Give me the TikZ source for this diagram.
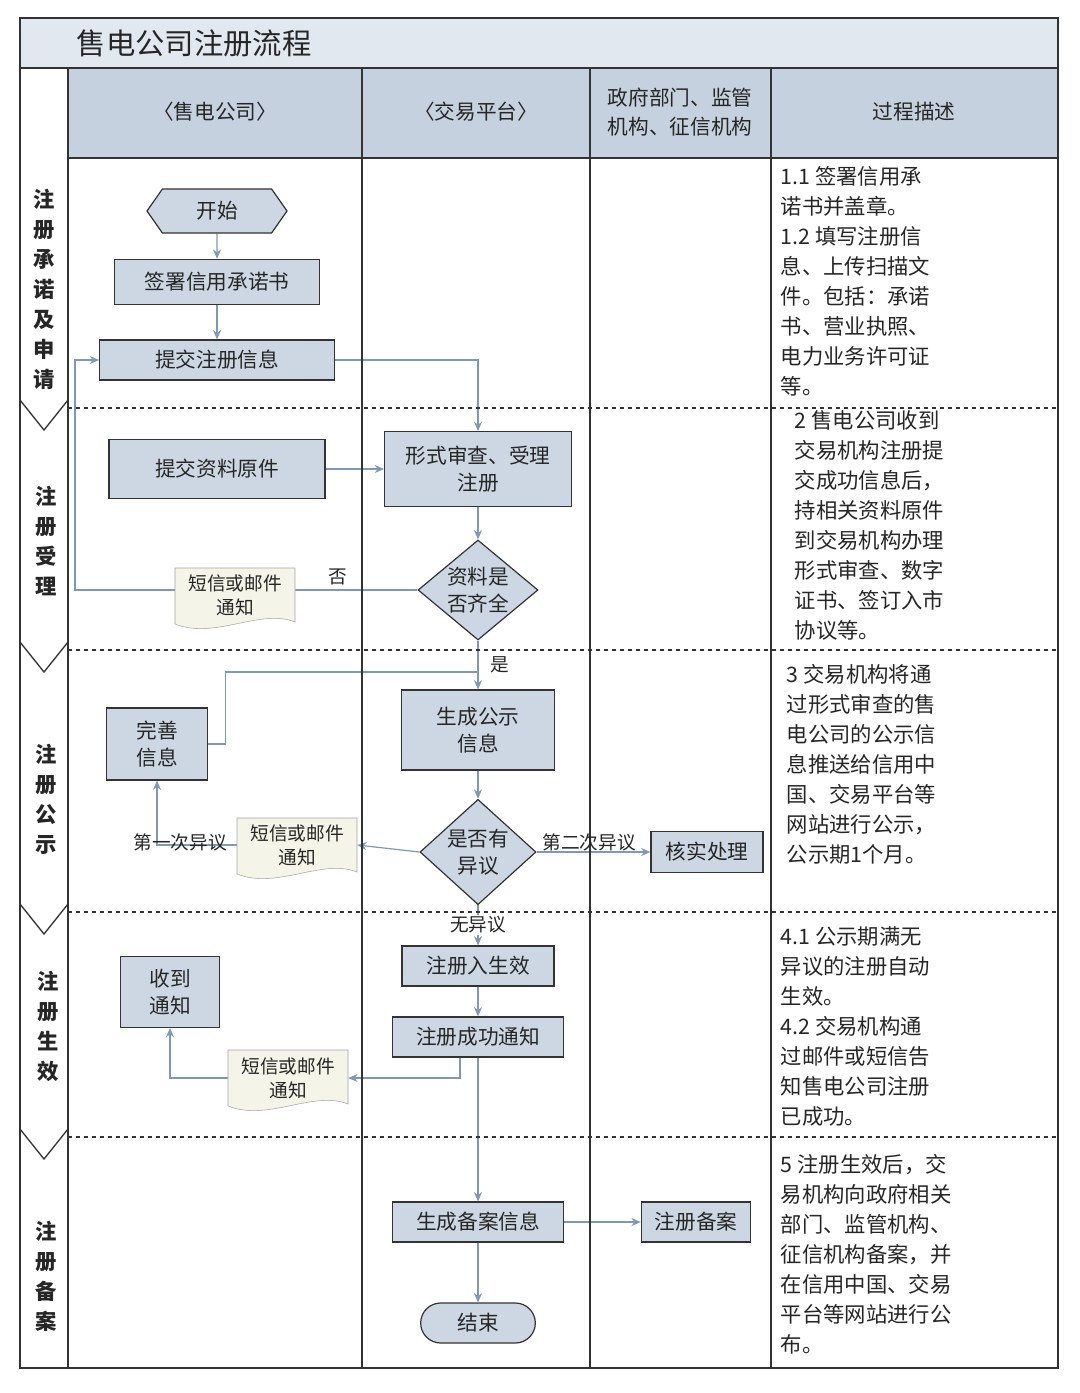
\documentclass[tikz,border=0pt]{standalone}
\usepackage{fontspec}
\setmainfont{Noto Sans CJK SC}
\usetikzlibrary{shapes.geometric,shapes.symbols,arrows.meta}
\pgfdeclarelayer{back}\pgfdeclarelayer{bg}\pgfsetlayers{back,bg,main}
\definecolor{boxf}{HTML}{CDD7E3}
\definecolor{headf}{HTML}{C6D1DF}
\definecolor{docf}{HTML}{F4F4E8}
\definecolor{ln}{HTML}{7E98B8}
\definecolor{bd}{HTML}{333333}
\newcommand{\docshape}[2]{%
 \fill[docf,draw=gray!70] (#1-60,#2-30) -- (#1+60,#2-30) -- (#1+60,#2+24)
  .. controls (#1+25,#2+10) and (#1-20,#2+42) .. (#1-60,#2+26) -- cycle;}
\begin{document}
\begin{tikzpicture}[x=0.75pt,y=-0.75pt,
 every node/.style={font=\fontsize{15.5pt}{20pt}\selectfont,align=center,text=black!85},
 box/.style={draw=bd,fill=boxf,line width=0.9pt,inner sep=0pt},
 arr/.style={draw=ln,line width=0.9pt,-{Stealth[length=7pt,width=6pt]}},
 ln/.style={draw=ln,line width=0.9pt},
 desc/.style={anchor=north west,align=left,font=\fontsize{16pt}{22.5pt}\selectfont},
 stage/.style={align=center,font=\fontsize{16pt}{22.5pt}\selectfont\bfseries},
 lbl/.style={font=\fontsize{14pt}{16pt}\selectfont}]
\useasboundingbox (0,0) rectangle (1080,1393);
\begin{pgfonlayer}{back}
\fill[white] (0,0) rectangle (1080,1393);
\fill[headf!50] (20,18) rectangle (1058,68);
\fill[headf] (68,68) rectangle (1058,158);
\end{pgfonlayer}
% frame
\draw[bd,line width=1.2pt] (20,18) rectangle (1058,1368);
\draw[bd,line width=1pt] (20,68) -- (1058,68);
\draw[bd,line width=1pt] (68,158) -- (1058,158);
\foreach \x in {68,362,590,771} \draw[bd,line width=1pt] (\x,68) -- (\x,1368);
\foreach \y in {408,650,912,1137} {
 \draw[bd,dashed,line width=0.8pt] (68,\y) -- (1058,\y);
 \draw[bd,line width=1pt] (20,\y-8) -- (44,\y+22) -- (68,\y-8);}
\node[anchor=west,font=\fontsize{22pt}{24pt}\selectfont] (title) at (72,43) {售电公司注册流程};
\node (h1) at (215,112) {〈售电公司〉};
\node (h2) at (476,112) {〈交易平台〉};
\node[font=\fontsize{15.5pt}{22pt}\selectfont] (h3) at (680,112) {政府部门、监管\\机构、征信机构};
\node (h4) at (914,112) {过程描述};
% stages
\node[stage] (st1) at (44,289) {注\\册\\承\\诺\\及\\申\\请};
\node[stage] (st2) at (46,541) {注\\册\\受\\理};
\node[stage] (st3) at (46,799) {注\\册\\公\\示};
\node[stage] (st4) at (48,1026) {注\\册\\生\\效};
\node[stage] (st5) at (46,1276) {注\\册\\备\\案};
% descriptions
\node[desc] (ds1) at (776,162) {1.1 签署信用承\\诺书并盖章。\\1.2 填写注册信\\息、上传扫描文\\件。包括：承诺\\书、营业执照、\\电力业务许可证\\等。};
\node[desc] (ds2) at (790,406) {2 售电公司收到\\交易机构注册提\\交成功信息后，\\持相关资料原件\\到交易机构办理\\形式审查、数字\\证书、签订入市\\协议等。};
\node[desc] (ds3) at (782,660) {3 交易机构将通\\过形式审查的售\\电公司的公示信\\息推送给信用中\\国、交易平台等\\网站进行公示，\\公示期1个月。};
\node[desc] (ds4) at (776,922) {4.1 公示期满无\\异议的注册自动\\生效。\\4.2 交易机构通\\过邮件或短信告\\知售电公司注册\\已成功。};
\node[desc] (ds5) at (776,1150) {5 注册生效后，交\\易机构向政府相关\\部门、监管机构、\\征信机构备案，并\\在信用中国、交易\\平台等网站进行公\\布。};
% nodes
\node[box,signal,signal to=east and west,signal pointer angle=110,minimum width=105pt,minimum height=33pt] (start) at (217,211) {开始};
\node[box,minimum width=154pt,minimum height=34pt] (s1) at (217,282) {签署信用承诺书};
\node[box,minimum width=176pt,minimum height=30pt] (s2) at (217,360) {提交注册信息};
\node[box,minimum width=162pt,minimum height=44pt] (yuan) at (217,469) {提交资料原件};
\node[box,minimum width=140pt,minimum height=56pt] (rev) at (478,469) {形式审查、受理\\注册};
\node[box,diamond,aspect=1.2,minimum width=90pt,minimum height=75pt] (d1) at (478,590) {资料是\\否齐全};
\node[box,minimum width=115pt,minimum height=60pt] (gs) at (478,730) {生成公示\\信息};
\node[box,minimum width=76pt,minimum height=54pt] (ws) at (157,744) {完善\\信息};
\node[box,diamond,aspect=1.1,minimum width=87pt,minimum height=79pt] (d2) at (478,852) {是否有\\异议};
\node[box,minimum width=84pt,minimum height=31pt] (hs) at (707,852) {核实处理};
\node[box,minimum width=114pt,minimum height=30pt] (sx) at (478,966) {注册入生效};
\node[box,minimum width=74pt,minimum height=53pt] (sd) at (170,992) {收到\\通知};
\node[box,minimum width=128pt,minimum height=30pt] (cg) at (478,1037) {注册成功通知};
\node[box,minimum width=128pt,minimum height=30pt] (ba) at (478,1222) {生成备案信息};
\node[box,minimum width=82pt,minimum height=30pt] (bea) at (696,1222) {注册备案};
\node[box,rounded corners=15pt,minimum width=86pt,minimum height=30pt] (end) at (478,1323) {结束};
% doc shapes
\coordinate (c1) at (75,590);
\coordinate (c2) at (478,672);
\coordinate (c3) at (460,1057);
\docshape{235}{598}
\node[inner sep=0,minimum width=90pt,minimum height=45pt,font=\fontsize{14pt}{18pt}\selectfont] (n1) at (235,595) {短信或邮件\\通知};
\docshape{297}{848}
\node[inner sep=0,minimum width=90pt,minimum height=45pt,font=\fontsize{14pt}{18pt}\selectfont] (n2) at (297,845) {短信或邮件\\通知};
\docshape{288}{1080}
\node[inner sep=0,minimum width=90pt,minimum height=45pt,font=\fontsize{14pt}{18pt}\selectfont] (n3) at (288,1078) {短信或邮件\\通知};
% connectors
\begin{pgfonlayer}{bg}
\draw[arr] (start) -- (s1);
\draw[arr] (s1) -- (s2);
\draw[arr] (s2.east) -| (rev.north);
\draw[arr] (yuan) -- (rev);
\draw[arr] (rev) -- (d1);
\draw[arr] (d1.west) -- (c1) |- (s2.west);
\draw[arr] (d1.south) -- (gs.north);
\draw[arr] (gs) -- (d2);
\draw[ln] (ws.east) -- ++(17,0) |- (c2);
\draw[arr] (d2.west) -- (n2.east);
\draw[arr] (n2.west) -| (ws.south);
\draw[arr] (d2.east) -- (hs.west);
\draw[arr] (d2.south) -- (sx.north);
\draw[arr] (sx) -- (cg);
\draw[arr] (cg) -- (ba);
\draw[arr] (c3) |- (n3.east);
\draw[arr] (n3.west) -| (sd.south);
\draw[arr] (ba) -- (bea);
\draw[arr] (ba) -- (end);
\end{pgfonlayer}
\node[lbl] (no) at (338,577) {否};
\node[lbl] (yes) at (500,665) {是};
\node[lbl] (l1) at (180,842) {第一次异议};
\node[lbl] (l2) at (589,842) {第二次异议};
\node[lbl,fill=white,inner sep=1pt] (l3) at (478,925) {无异议};
\end{tikzpicture}
\end{document}
